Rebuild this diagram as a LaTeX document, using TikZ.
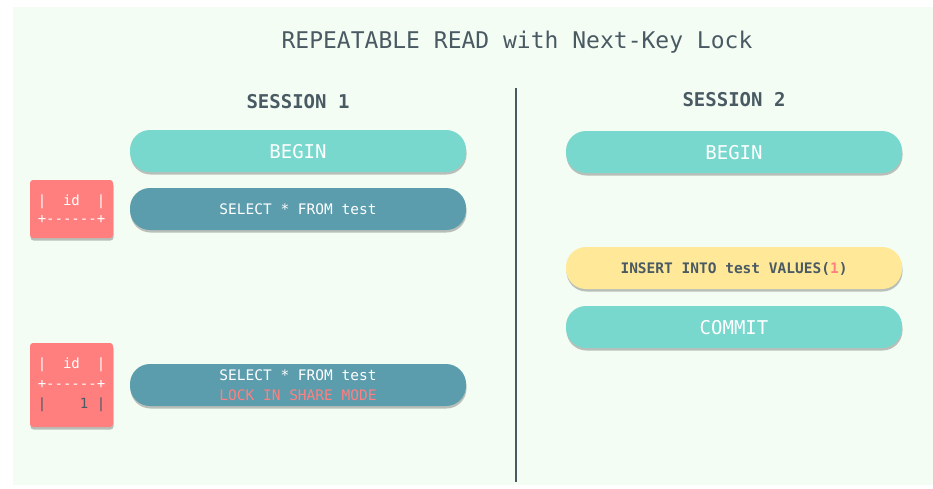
\documentclass[tikz,border=0pt]{standalone}
\usepackage{fontspec}
\setmonofont{DejaVu Sans Mono}
\usetikzlibrary{shadows}
\definecolor{bgc}{HTML}{F3FDF4}
\definecolor{tealc}{HTML}{78D8CD}
\definecolor{dtealc}{HTML}{5B9CAD}
\definecolor{redc}{HTML}{FF7F7E}
\definecolor{yelc}{HTML}{FFE999}
\definecolor{inkc}{HTML}{4A5A63}
\definecolor{salc}{HTML}{FF8080}
\tikzset{
  pill/.style={rounded corners=20pt, minimum width=336pt, minimum height=42pt,
    inner sep=0pt, align=center, text depth=0pt,
    drop shadow={shadow xshift=0.5pt, shadow yshift=-2.5pt, opacity=0.35, fill=black!70}},
  tbox/.style={rounded corners=3pt, fill=redc, minimum width=83pt, inner sep=0pt,
    drop shadow={shadow xshift=0.5pt, shadow yshift=-2.5pt, opacity=0.35, fill=black!70}},
  hdr/.style={text=inkc, font=\ttfamily\bfseries\fontsize{19}{22}\selectfont},
}
\begin{document}
\begin{tikzpicture}[x=1pt,y=-1pt]
\useasboundingbox (0,0) rectangle (933,488);
\fill[bgc] (13,7) rectangle (933,485);
\node[text=inkc, font=\ttfamily\fontsize{23}{26}\selectfont] (title) at (517,42) {REPEATABLE READ with Next-Key Lock};
\node[hdr] (s1) at (298,102) {SESSION 1};
\node[hdr] (s2) at (734,100) {SESSION 2};
\coordinate (dtop) at (516,88);
\coordinate (dbot) at (516,482);
\draw[inkc, line width=2.5pt] (dtop) -- (dbot);
% session 1
\node[pill, fill=tealc, text=white, font=\ttfamily\fontsize{19}{22}\selectfont] (b1) at (298,151) {BEGIN};
\node[pill, fill=dtealc, text=white, font=\ttfamily\fontsize{14.5}{20}\selectfont] (q1) at (298,209) {SELECT * FROM test};
\node[pill, fill=dtealc, text=white, font=\ttfamily\fontsize{14.5}{20}\selectfont] (q2) at (298,385) {SELECT * FROM test\\\textcolor{salc}{LOCK IN SHARE MODE}};
\node[tbox, minimum height=58pt] (r1) at (71.5,209) {};
\node[text=white, font=\ttfamily\fontsize{14}{18}\selectfont, align=left] (r1t) at (r1.center) {|\ \ id\ \ |\\+------+};
\node[tbox, minimum height=84pt] (r2) at (71.5,385) {};
\node[text=white, font=\ttfamily\fontsize{14}{20}\selectfont, align=left] (r2t) at (r2.center) {|\ \ id\ \ |\\+------+\\\textcolor{inkc}{|\ \ \ \ 1\ |}};
% session 2
\node[pill, fill=tealc, text=white, font=\ttfamily\fontsize{19}{22}\selectfont] (b2) at (734,152) {BEGIN};
\node[pill, fill=yelc, text=inkc, font=\ttfamily\bfseries\fontsize{14.5}{20}\selectfont] (ins) at (734,268) {INSERT INTO test VALUES(\textcolor{salc}{1})};
\node[pill, fill=tealc, text=white, font=\ttfamily\fontsize{19}{22}\selectfont] (cm) at (734,327) {COMMIT};
\end{tikzpicture}
\end{document}
